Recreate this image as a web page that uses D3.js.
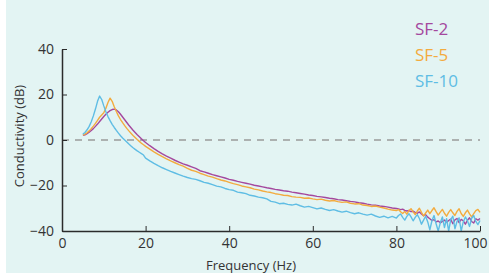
<!DOCTYPE html>
<html>
<head>
<meta charset="utf-8">
<script src="https://cdn.jsdelivr.net/npm/d3@7"></script>
<style>
  body { margin: 0; background: #fff; }
  text { font-family: "Open Sans", sans-serif; }
</style>
</head>
<body>
<script>
// frequency samples (Hz)
var freqs = [5,5.5,6,6.5,7,7.5,8,8.5,9,9.5,10,10.5,11,11.5,12,12.5,13,13.5,14,14.5,15,15.5,16,16.5,17,17.5,18,18.5,19,19.5,20,
  21,22,23,24,25,26,27,28,29,30,31,32,33,34,35,36,37,38,39,40,41,42,43,44,45,46,47,48,49,50,
  51,52,53,54,55,56,57,58,59,60,61,62,63,64,65,66,67,68,69,70,71,72,73,74,75,76,77,78,79,80,
  80.5,81,81.5,82,82.5,83,83.5,84,84.5,85,85.5,86,86.5,87,87.5,88,88.5,89,89.5,90,
  90.5,91,91.5,92,92.5,93,93.5,94,94.5,95,95.5,96,96.5,97,97.5,98,98.5,99,99.5,100]

var sf2 = [2.0,2.3,2.8,3.4,4.2,5.0,6.0,7.0,8.1,9.2,10.3,11.3,12.2,12.9,13.4,13.6,13.2,12.4,11.3,10.1,8.9,7.7,6.5,5.4,4.3,3.3,2.3,1.4,0.5,-0.3,-1.1,
  -2.5,-3.8,-5.0,-6.1,-7.1,-8.0,-8.9,-9.7,-10.5,-11.1,-11.8,-12.5,-13.5,-14.0,-14.6,-15.2,-15.7,-16.2,-16.7,-17.3,-17.7,-18.2,-18.6,-19.0,-19.4,-19.9,-20.2,-20.6,-21.0,-21.3,
  -21.7,-22.0,-22.3,-22.5,-22.9,-23.2,-23.5,-23.8,-24.2,-24.4,-24.8,-25.0,-25.3,-25.6,-25.8,-26.2,-26.4,-26.7,-27.0,-27.2,-27.6,-27.8,-28.2,-28.5,-28.7,-29.0,-29.2,-29.5,-29.9,-30.1,
  -30.3,-30.6,-30.4,-30.9,-31.2,-31.0,-31.5,-31.3,-31.8,-32.2,-31.6,-32.5,-33.3,-32.8,-33.9,-34.6,-35.4,-35.0,-36.0,-35.6,
  -36.4,-35.8,-35.2,-36.2,-35.4,-34.8,-36.8,-35.1,-34.5,-36.3,-34.9,-35.5,-37.0,-35.3,-34.2,-35.8,-36.5,-34.6,-35.2,-34.5]

var sf5 = [2.2,2.6,3.2,4.0,5.0,6.1,7.3,8.6,10.0,11.0,12.0,14.0,16.5,18.4,17.0,14.6,12.5,10.6,9.0,7.6,6.3,5.1,4.0,3.0,2.0,1.1,0.2,-0.6,-1.4,-2.1,-2.8,
  -4.0,-5.2,-6.3,-7.3,-8.3,-9.2,-10.0,-10.8,-11.5,-12.5,-13.3,-13.8,-14.6,-15.2,-15.9,-16.3,-17.0,-17.6,-18.0,-18.6,-19.2,-19.6,-20.2,-20.6,-21.0,-21.6,-21.9,-22.4,-22.8,-23.1,
  -23.6,-23.9,-24.3,-24.4,-24.9,-25.1,-25.2,-25.6,-25.5,-25.9,-26.2,-26.0,-26.5,-26.8,-26.6,-27.1,-27.4,-27.2,-27.8,-28.1,-28.0,-28.6,-28.8,-29.2,-29.0,-29.5,-29.9,-30.4,-30.8,-31.0,
  -30.6,-31.5,-32.3,-31.4,-32.6,-31.0,-30.2,-31.6,-32.8,-31.2,-30.0,-31.8,-33.4,-32.1,-30.8,-32.4,-31.0,-29.8,-31.5,-33.0,
  -31.7,-30.5,-32.2,-33.5,-31.8,-30.6,-32.0,-33.2,-31.4,-30.2,-32.3,-33.6,-32.0,-30.8,-32.5,-33.8,-32.4,-31.0,-30.5,-31.8]

var sf10 = [2.6,3.3,4.5,6.0,8.0,10.6,13.6,17.0,19.3,17.8,15.0,12.4,10.3,8.5,6.9,5.5,4.2,3.0,1.9,0.9,0.0,-0.9,-1.8,-2.6,-3.4,-4.1,-4.8,-5.4,-6.0,-6.6,-8.0,
  -9.2,-10.3,-11.3,-12.2,-13.0,-13.8,-14.5,-15.2,-15.9,-16.5,-17.0,-17.3,-17.9,-18.6,-19.0,-19.6,-20.3,-20.6,-21.3,-21.8,-22.1,-22.9,-23.2,-23.6,-24.3,-24.6,-25.1,-25.4,-25.9,-27.0,
  -27.3,-28.0,-27.8,-28.3,-28.6,-28.2,-28.9,-29.5,-29.2,-29.7,-30.3,-29.9,-30.5,-31.0,-30.6,-31.2,-31.7,-31.3,-31.9,-32.4,-32.0,-32.6,-33.0,-32.6,-33.4,-34.0,-33.5,-34.2,-33.6,-34.3,
  -33.2,-32.5,-34.0,-35.2,-33.6,-32.4,-33.8,-35.5,-34.0,-32.8,-34.5,-37.0,-35.2,-33.5,-36.0,-39.5,-35.5,-33.2,-36.8,-40.0,
  -36.4,-33.8,-38.5,-34.6,-40.0,-35.0,-33.5,-39.0,-35.8,-34.2,-40.0,-36.0,-33.8,-35.5,-38.0,-34.4,-33.2,-35.8,-37.2,-35.4]

var seriesNames = ["SF-2", "SF-5", "SF-10"]
var seriesColors = ["#a4489e", "#f3ab3e", "#5fbde4"]
var xTicks = [0, 20, 40, 60, 80, 100]
var yTicks = [-40, -20, 0, 20, 40]

var W = 489, H = 277

var svg = d3.select("body").append("svg").attr("width", W).attr("height", H)

// panel background
svg.append("rect")
  .attr("x", 6).attr("y", 0).attr("width", W - 6).attr("height", 273)
  .attr("fill", "#e3f4f3")

var x = d3.scaleLinear().domain([0, 100]).range([62, 480])
var y = d3.scaleLinear().domain([-40, 40]).range([231, 49])

// zero reference line
svg.append("line")
  .attr("x1", x(0)).attr("x2", x(100))
  .attr("y1", y(0)).attr("y2", y(0))
  .attr("stroke", "#9a9a9a")
  .attr("stroke-width", 1.5)
  .attr("stroke-dasharray", "7,6")

var lineFunc = d3.line()
  .x(function(d) { return x(d[0]) })
  .y(function(d) { return y(d[1]) })

var allSeries = [sf2, sf5, sf10]
allSeries.forEach(function(vals, i) {
  var pts = freqs.map(function(f, j) { return [f, vals[j]] })
  svg.append("path")
    .attr("d", lineFunc(pts))
    .attr("fill", "none")
    .attr("stroke", seriesColors[i])
    .attr("stroke-width", 1.4)
    .attr("stroke-linejoin", "round")
})

// axes
var xAxis = svg.append("g")
  .attr("transform", "translate(0," + y(-40) + ")")
  .call(d3.axisBottom(x).tickValues(xTicks).tickSizeInner(-5).tickSizeOuter(0).tickPadding(7))
var yAxis = svg.append("g")
  .attr("transform", "translate(" + x(0) + ",0)")
  .call(d3.axisLeft(y).tickValues(yTicks).tickSizeInner(-5).tickSizeOuter(0).tickPadding(8))

;[xAxis, yAxis].forEach(function(g) {
  g.select(".domain").attr("stroke", "#2b2b2b").attr("stroke-width", 1.5)
  g.selectAll(".tick line").attr("stroke", "#2b2b2b").attr("stroke-width", 1)
  g.selectAll(".tick text").attr("fill", "#333").style("font-size", "14px").style("font-family", "'Open Sans', sans-serif")
})
// keep the last x label inside the frame
xAxis.selectAll(".tick text").filter(function(d) { return d === 100 }).attr("dx", "-5")

// axis titles
svg.append("text")
  .attr("x", 251).attr("y", 270)
  .attr("text-anchor", "middle")
  .attr("fill", "#333")
  .style("font-size", "13px")
  .text("Frequency (Hz)")

svg.append("text")
  .attr("transform", "translate(24,136) rotate(-90)")
  .attr("text-anchor", "middle")
  .attr("fill", "#333")
  .style("font-size", "13px")
  .text("Conductivity (dB)")

// legend
seriesNames.forEach(function(name, i) {
  svg.append("text")
    .attr("x", 415).attr("y", 35 + i * 26)
    .attr("fill", seriesColors[i])
    .style("font-size", "17px")
    .text(name)
})
</script>
</body>
</html>
